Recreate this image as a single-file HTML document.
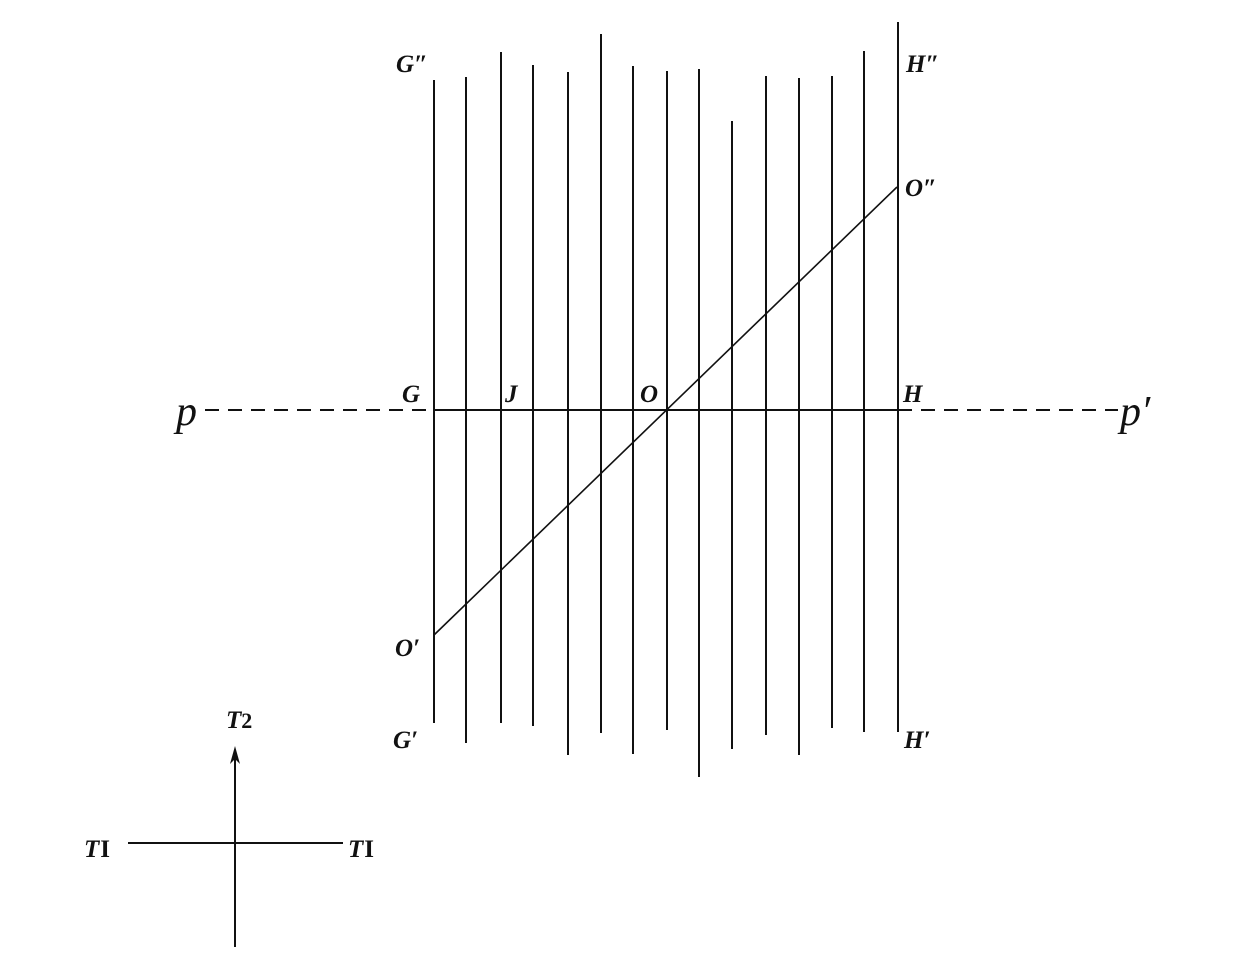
<!DOCTYPE html>
<html><head><style>
html,body{margin:0;padding:0;background:#fff;}
svg{display:block;}
text{font-family:"Liberation Serif",serif;font-style:italic;fill:#111;}
</style></head><body>
<svg width="1257" height="966" viewBox="0 0 1257 966" xmlns="http://www.w3.org/2000/svg">
<g stroke="#111" stroke-width="2" fill="none">
<line x1="434" y1="80" x2="434" y2="723"/>
<line x1="466" y1="77" x2="466" y2="743"/>
<line x1="501" y1="52" x2="501" y2="723"/>
<line x1="533" y1="65" x2="533" y2="726"/>
<line x1="568" y1="72" x2="568" y2="755"/>
<line x1="601" y1="34" x2="601" y2="733"/>
<line x1="633" y1="66" x2="633" y2="754"/>
<line x1="667" y1="71" x2="667" y2="730"/>
<line x1="699" y1="69" x2="699" y2="777"/>
<line x1="732" y1="121" x2="732" y2="749"/>
<line x1="766" y1="76" x2="766" y2="735"/>
<line x1="799" y1="78" x2="799" y2="755"/>
<line x1="832" y1="76" x2="832" y2="728"/>
<line x1="864" y1="51" x2="864" y2="732"/>
<line x1="898" y1="22" x2="898" y2="732"/>
<line x1="434" y1="410" x2="898" y2="410"/>
<line x1="205" y1="410" x2="434" y2="410" stroke-dasharray="14,9"/>
<line x1="898" y1="410" x2="1118" y2="410" stroke-dasharray="14,9"/>
<line x1="434" y1="635" x2="897" y2="187" stroke-width="1.6"/>
<line x1="128" y1="843" x2="343" y2="843"/>
<line x1="235" y1="752" x2="235" y2="947"/>
</g>
<polygon points="235,746 230,764 235,759 240,764" fill="#111"/>
<g font-size="25" font-weight="bold">
<text x="396" y="72">G″</text>
<text x="906" y="72">H″</text>
<text x="905" y="196">O″</text>
<text x="402" y="402">G</text>
<text x="505" y="402">J</text>
<text x="640" y="402">O</text>
<text x="903" y="402">H</text>
<text x="395" y="656">O′</text>
<text x="393" y="748">G′</text>
<text x="904" y="748">H′</text>
<text x="226" y="728">T<tspan font-style="normal" font-size="22">2</tspan></text>
<text x="84" y="857">T<tspan font-style="normal" dx="1">I</tspan></text>
<text x="348" y="857">T<tspan font-style="normal" dx="1">I</tspan></text>
</g>
<text x="176" y="425" font-size="42">p</text>
<text x="1120" y="425" font-size="42">p′</text>
</svg>
</body></html>
